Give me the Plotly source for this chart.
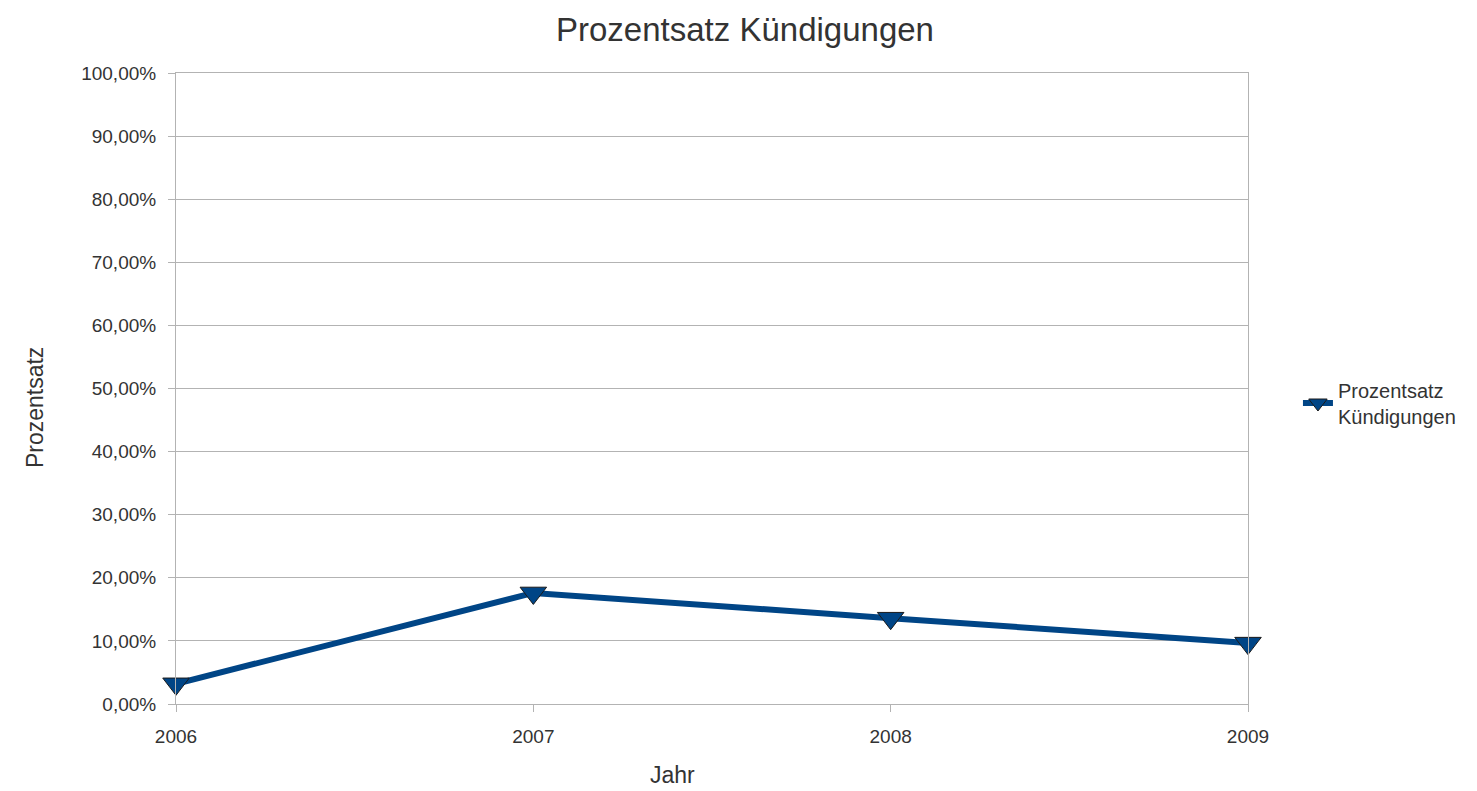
import plotly.graph_objects as go

years = [2006, 2007, 2008, 2009]
tick_labels = ["2006", "2007", "2008", "2009"]
values = [0.032, 0.176, 0.136, 0.0965]
series_name = "Prozentsatz<br>Kündigungen"
title_text = "Prozentsatz Kündigungen"
x_title = "Jahr"
y_title = "Prozentsatz"

fig = go.Figure()
fig.add_trace(go.Scatter(
    x=years, y=values, mode="lines+markers", name=series_name,
    cliponaxis=False,
    line=dict(color="#004586", width=6),
    marker=dict(symbol="triangle-down", size=23, color="#004586",
                line=dict(color="#1a1a1a", width=1)),
))

font_family = "Liberation Sans, Arial, sans-serif"
txt = "#333333"
fig.update_layout(
    width=1469, height=783,
    margin=dict(l=168, r=229, t=65, b=87),
    paper_bgcolor="white", plot_bgcolor="white",
    separators=",.",
    font=dict(family=font_family, color=txt, size=19),
    title=dict(text=title_text, x=0.5017, xanchor="center", xref="container",
               y=0.972, yanchor="middle", yref="container",
               font=dict(size=33, color=txt, family=font_family)),
    showlegend=True,
    legend=dict(x=1.0466, xanchor="left", y=0.477, yanchor="middle",
                font=dict(size=20, color=txt), itemwidth=30,
                bgcolor="rgba(0,0,0,0)"),
    xaxis=dict(range=[2006, 2009], tickvals=years, ticktext=tick_labels,
               showgrid=False, showline=True, linecolor="#b3b3b3", linewidth=1,
               mirror=True, ticks="outside", ticklen=7, tickcolor="#b3b3b3",
               ticklabelstandoff=8,
               tickfont=dict(size=19, color=txt), zeroline=False),
    yaxis=dict(range=[0, 1], tick0=0, dtick=0.1, tickformat=".2%",
               showgrid=True, gridcolor="#b3b3b3", gridwidth=1,
               showline=True, linecolor="#b3b3b3", linewidth=1, mirror=True,
               ticks="outside", ticklen=7, tickcolor="#b3b3b3",
               ticklabelstandoff=8,
               tickfont=dict(size=19, color=txt), zeroline=False),
    annotations=[
        dict(text=x_title, xref="paper", yref="paper", x=0.4636, y=-0.1125,
             xanchor="center", yanchor="middle", showarrow=False,
             font=dict(size=23, color=txt)),
        dict(text=y_title, xref="paper", yref="paper", x=-0.1315, y=0.469,
             xanchor="center", yanchor="middle", showarrow=False, textangle=-90,
             font=dict(size=23, color=txt)),
    ],
)

fig.write_html("out.html")
